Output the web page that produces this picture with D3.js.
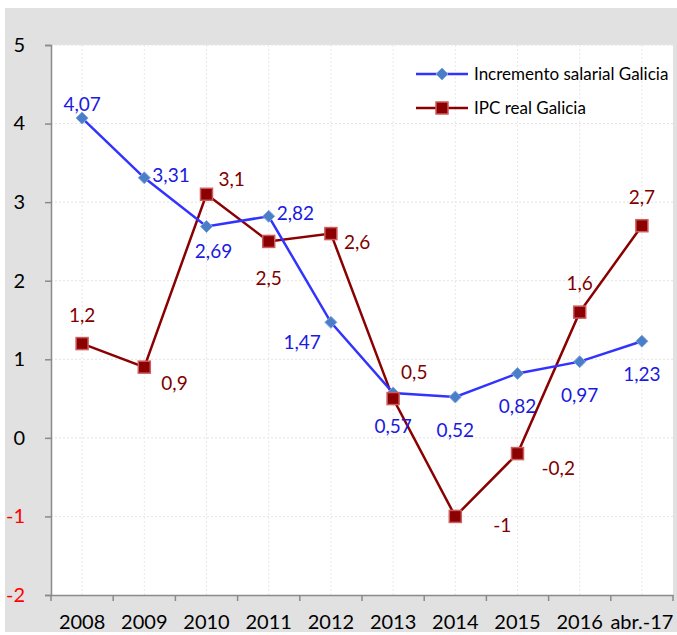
<html>
<head>
<style>
  body { margin: 0; background: #fff; }
  text { font-family: Lato, "Open Sans", sans-serif; }
</style>
</head>
<body>
<svg id="chart" width="677" height="635"></svg>
<script src="https://cdn.jsdelivr.net/npm/d3@7"></script>
<script>
const categories = ['2008', '2009', '2010', '2011', '2012', '2013', '2014', '2015', '2016', 'abr.-17']
const salario = [4.07, 3.31, 2.69, 2.82, 1.47, 0.57, 0.52, 0.82, 0.97, 1.23]
const ipc = [1.2, 0.9, 3.1, 2.5, 2.6, 0.5, -1, -0.2, 1.6, 2.7]
const yTicks = [-2, -1, 0, 1, 2, 3, 4, 5]
const seriesNames = ['Incremento salarial Galicia', 'IPC real Galicia']

// where each data label sits relative to its point
const salarioPos = ['top', 'right', 'under', 'right', 'left', 'below', 'below', 'below', 'below', 'below']
const ipcPos = ['above', 'rightbelow', 'rightup', 'belowfar', 'rightlow', 'rightabove', 'farright', 'rightbelow2', 'above', 'above']

const offsets = {
  top: [0, -7, 'middle'],
  above: [0, -22, 'middle'],
  below: [0, 40, 'middle'],
  under: [7, 31, 'middle'],
  belowfar: [0, 44, 'middle'],
  right: [8, 4, 'start'],
  rightlow: [13, 15, 'start'],
  left: [-10, 27, 'end'],
  rightbelow: [17, 23, 'start'],
  rightbelow2: [24, 21, 'start'],
  rightup: [12, -8, 'start'],
  rightabove: [8, -20, 'start'],
  farright: [38, 16, 'start']
}

const fmt = v => String(v).replace('.', ',')

const svg = d3.select('#chart')
const plot = { left: 51, right: 673, top: 45, bottom: 595 }

svg.append('rect').attr('x', 5).attr('y', 8).attr('width', 672).attr('height', 624).attr('fill', '#e1e1e1')
svg.append('rect')
  .attr('x', plot.left).attr('y', plot.top)
  .attr('width', plot.right - plot.left).attr('height', plot.bottom - plot.top)
  .attr('fill', '#fff')

const x = d3.scaleBand().domain(categories).range([plot.left, plot.right])
const y = d3.scaleLinear().domain([-2, 5]).range([plot.bottom, plot.top])
const cx = d => x(d) + x.bandwidth() / 2

// gridlines
svg.append('g').selectAll('line').data(yTicks.filter(t => t > -2)).enter()
  .append('line')
    .attr('x1', plot.left).attr('x2', plot.right)
    .attr('y1', d => y(d)).attr('y2', d => y(d))
    .attr('stroke', '#e4e4e4').attr('stroke-dasharray', '2,2')
svg.append('g').selectAll('line').data(categories).enter()
  .append('line')
    .attr('x1', d => cx(d)).attr('x2', d => cx(d))
    .attr('y1', plot.top).attr('y2', plot.bottom)
    .attr('stroke', '#e8e8e8').attr('stroke-dasharray', '2,2')

// axes
const yAxis = svg.append('g')
  .attr('transform', `translate(${plot.left},0)`)
  .call(d3.axisLeft(y).tickValues(yTicks).tickSize(6).tickPadding(20).tickFormat(d => d))
yAxis.select('.domain').attr('stroke', '#8a8a8a').attr('stroke-width', 1.5)
yAxis.selectAll('.tick line').attr('stroke', '#8a8a8a').attr('stroke-width', 1.5)
yAxis.selectAll('.tick text')
  .attr('font-size', 20).attr('fill', d => d < 0 ? '#ff0000' : '#000')
  .style('font-family', 'Lato, sans-serif')

const xAxis = svg.append('g')
  .attr('transform', `translate(0,${plot.bottom})`)
  .call(d3.axisBottom(x).tickSize(0).tickPadding(20))
xAxis.select('.domain').attr('stroke', '#8a8a8a').attr('stroke-width', 1.5)
xAxis.selectAll('.tick text').attr('font-size', 20).attr('fill', '#000')
  .style('font-family', 'Lato, sans-serif')
// ticks between the categories
svg.append('g').selectAll('line').data(categories.concat(['end'])).enter()
  .append('line')
    .attr('x1', (d, i) => plot.left + i * x.bandwidth())
    .attr('x2', (d, i) => plot.left + i * x.bandwidth())
    .attr('y1', plot.bottom).attr('y2', plot.bottom + 6)
    .attr('stroke', '#8a8a8a').attr('stroke-width', 1.5)

const line = d3.line().x((d, i) => cx(categories[i])).y(d => y(d))

// IPC series
svg.append('path').datum(ipc).attr('d', line)
  .attr('fill', 'none').attr('stroke', '#8b0000').attr('stroke-width', 2.5)
// salario series
svg.append('path').datum(salario).attr('d', line)
  .attr('fill', 'none').attr('stroke', '#3333ff').attr('stroke-width', 2.5)

function square(g, px, py) {
  g.append('rect').attr('x', px - 6).attr('y', py - 6).attr('width', 12).attr('height', 12)
    .attr('fill', '#8b0000').attr('stroke', '#cd5c5c').attr('stroke-width', 1.5)
}
function diamond(g, px, py) {
  g.append('path').attr('d', `M${px},${py - 6}L${px + 6},${py}L${px},${py + 6}L${px - 6},${py}Z`)
    .attr('fill', '#4a7ec8').attr('stroke', '#7fa6dc').attr('stroke-width', 1)
}

const marks = svg.append('g')
salario.forEach((v, i) => diamond(marks, cx(categories[i]), y(v)))
ipc.forEach((v, i) => square(marks, cx(categories[i]), y(v)))

function labels(data, pos, color) {
  svg.append('g').selectAll('text').data(data).enter()
    .append('text')
      .attr('x', (d, i) => cx(categories[i]) + offsets[pos[i]][0])
      .attr('y', (d, i) => y(d) + offsets[pos[i]][1])
      .attr('text-anchor', (d, i) => offsets[pos[i]][2])
      .attr('font-size', 19)
      .attr('fill', color)
      .text(d => fmt(d))
}
labels(salario, salarioPos, '#1a1ae0')
labels(ipc, ipcPos, '#800000')

// legend
const legend = svg.append('g')
const legY = [74, 108]
legend.append('line').attr('x1', 416).attr('x2', 468).attr('y1', legY[0]).attr('y2', legY[0])
  .attr('stroke', '#3333ff').attr('stroke-width', 2.5)
diamond(legend, 442, legY[0])
legend.append('line').attr('x1', 416).attr('x2', 468).attr('y1', legY[1]).attr('y2', legY[1])
  .attr('stroke', '#8b0000').attr('stroke-width', 2.5)
square(legend, 442, legY[1])
legend.selectAll('text').data(seriesNames).enter()
  .append('text')
    .attr('x', 474).attr('y', (d, i) => legY[i] + 6)
    .attr('font-size', 17).attr('fill', '#000')
    .text(d => d)
</script>
</body>
</html>
